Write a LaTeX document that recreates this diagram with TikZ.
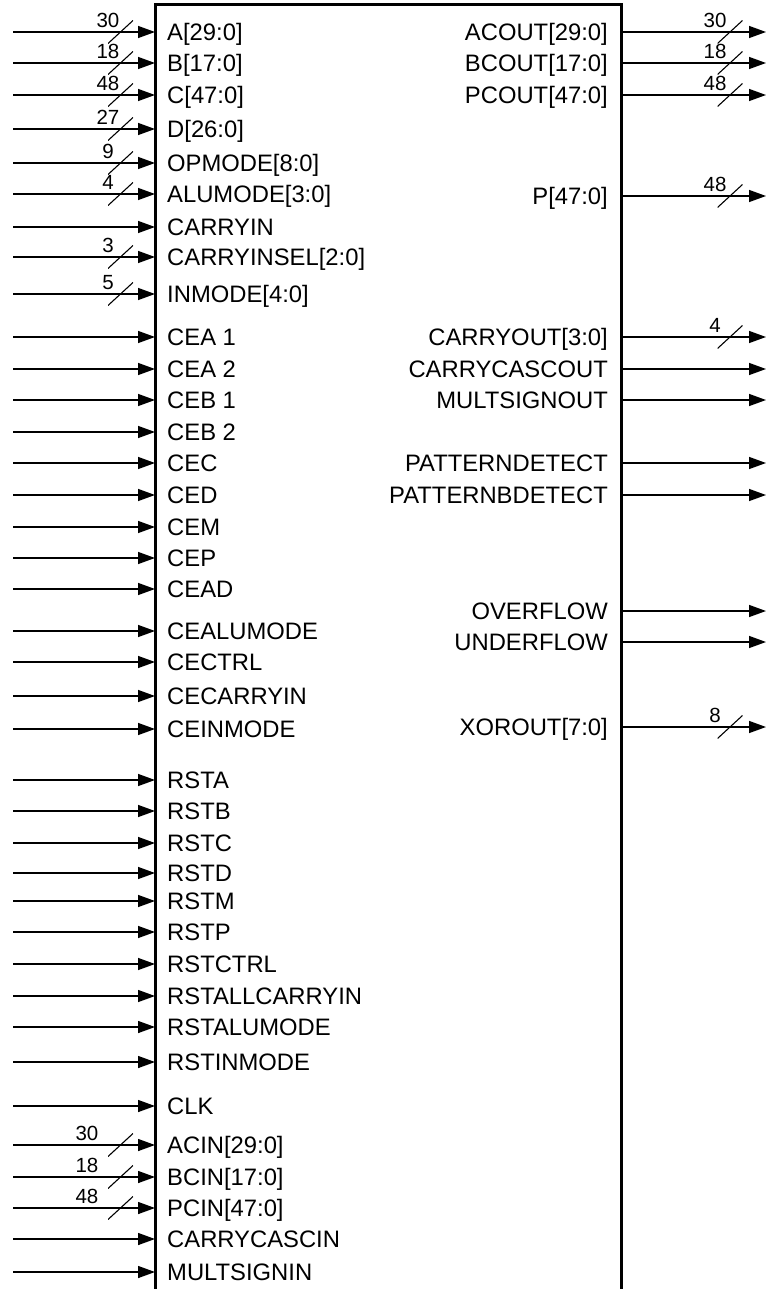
\documentclass[tikz,border=0pt]{standalone}
\usepackage{fontspec}
\setmainfont{Liberation Sans}
\usetikzlibrary{arrows.meta}
\def \xl{13}
\def \xr{766}

\tikzset{
  port/.style={inner ysep=0pt, text height=17pt, text depth=0pt, font=\fontsize{23.8}{28}\selectfont},
  lin/.style={port, anchor=west, inner xsep=12pt},
  rout/.style={port, anchor=east, inner xsep=13pt},
  sig/.style={line width=1.4pt, -{Triangle[length=17pt,width=12pt]}},
  busmark/.style={minimum width=25pt, minimum height=23pt, inner sep=0pt,
    path picture={\draw[line width=1.1pt] (path picture bounding box.south west) -- (path picture bounding box.north east);}},
  buswd/.style={anchor=south, inner sep=0pt, text height=14.5pt, text depth=0pt, font=\fontsize{20.5}{24}\selectfont}
}

\begin{document}
\begin{tikzpicture}[x=1pt, y=-1pt]
    \useasboundingbox (0,0) rectangle (767,1289);
    \draw[line width=3pt] (155,1295) |- (621,5) -- (621,1295);

    % data inputs
    \node[lin] (A) at (155,32) {A[29:0]};
    \node[lin] (B) at (155,63) {B[17:0]};
    \node[lin] (C) at (155,95) {C[47:0]};
    \node[lin] (D) at (155,129) {D[26:0]};
    \node[lin] (OPMODE) at (155,163) {OPMODE[8:0]};
    \node[lin] (ALUMODE) at (155,194) {ALUMODE[3:0]};
    \node[lin] (CARRYIN) at (155,227) {CARRYIN};
    \node[lin] (CARRYINSEL) at (155,257) {CARRYINSEL[2:0]};
    \node[lin] (INMODE) at (155,294) {INMODE[4:0]};
    \coordinate (A-in) at (\xl,32);
    \coordinate (B-in) at (\xl,63);
    \coordinate (C-in) at (\xl,95);
    \coordinate (D-in) at (\xl,129);
    \coordinate (OPMODE-in) at (\xl,163);
    \coordinate (ALUMODE-in) at (\xl,194);
    \coordinate (CARRYIN-in) at (\xl,227);
    \coordinate (CARRYINSEL-in) at (\xl,257);
    \coordinate (INMODE-in) at (\xl,294);
    \path[sig] (A-in) edge (A);
    \path[sig] (B-in) edge (B);
    \path[sig] (C-in) edge (C);
    \path[sig] (D-in) edge (D);
    \path[sig] (OPMODE-in) edge (OPMODE);
    \path[sig] (ALUMODE-in) edge (ALUMODE);
    \path[sig] (CARRYIN-in) edge (CARRYIN);
    \path[sig] (CARRYINSEL-in) edge (CARRYINSEL);
    \path[sig] (INMODE-in) edge (INMODE);
    \node[busmark] (A-s) at (120.5,32) {};
    \node[busmark] (B-s) at (120.5,63) {};
    \node[busmark] (C-s) at (120.5,95) {};
    \node[busmark] (D-s) at (120.5,129) {};
    \node[busmark] (OPMODE-s) at (120.5,163) {};
    \node[busmark] (ALUMODE-s) at (120.5,194) {};
    \node[busmark] (CARRYINSEL-s) at (120.5,257) {};
    \node[busmark] (INMODE-s) at (120.5,294) {};
    \node[buswd] (A-w) at (108,28) {30};
    \node[buswd] (B-w) at (108,59) {18};
    \node[buswd] (C-w) at (108,91) {48};
    \node[buswd] (D-w) at (108,125) {27};
    \node[buswd] (OPMODE-w) at (108,159) {9};
    \node[buswd] (ALUMODE-w) at (108,190) {4};
    \node[buswd] (CARRYINSEL-w) at (108,253) {3};
    \node[buswd] (INMODE-w) at (108,290) {5};

    % clock enables
    \node[lin] (CEA1) at (155,337) {CEA 1};
    \node[lin] (CEA2) at (155,369) {CEA 2};
    \node[lin] (CEB1) at (155,400) {CEB 1};
    \node[lin] (CEB2) at (155,432) {CEB 2};
    \node[lin] (CEC) at (155,463) {CEC};
    \node[lin] (CED) at (155,495) {CED};
    \node[lin] (CEM) at (155,527) {CEM};
    \node[lin] (CEP) at (155,558) {CEP};
    \node[lin] (CEAD) at (155,589) {CEAD};
    \node[lin] (CEALUMODE) at (155,631) {CEALUMODE};
    \node[lin] (CECTRL) at (155,662) {CECTRL};
    \node[lin] (CECARRYIN) at (155,696) {CECARRYIN};
    \node[lin] (CEINMODE) at (155,729) {CEINMODE};
    \coordinate (CEA1-in) at (\xl,337);
    \coordinate (CEA2-in) at (\xl,369);
    \coordinate (CEB1-in) at (\xl,400);
    \coordinate (CEB2-in) at (\xl,432);
    \coordinate (CEC-in) at (\xl,463);
    \coordinate (CED-in) at (\xl,495);
    \coordinate (CEM-in) at (\xl,527);
    \coordinate (CEP-in) at (\xl,558);
    \coordinate (CEAD-in) at (\xl,589);
    \coordinate (CEALUMODE-in) at (\xl,631);
    \coordinate (CECTRL-in) at (\xl,662);
    \coordinate (CECARRYIN-in) at (\xl,696);
    \coordinate (CEINMODE-in) at (\xl,729);
    \path[sig] (CEA1-in) edge (CEA1);
    \path[sig] (CEA2-in) edge (CEA2);
    \path[sig] (CEB1-in) edge (CEB1);
    \path[sig] (CEB2-in) edge (CEB2);
    \path[sig] (CEC-in) edge (CEC);
    \path[sig] (CED-in) edge (CED);
    \path[sig] (CEM-in) edge (CEM);
    \path[sig] (CEP-in) edge (CEP);
    \path[sig] (CEAD-in) edge (CEAD);
    \path[sig] (CEALUMODE-in) edge (CEALUMODE);
    \path[sig] (CECTRL-in) edge (CECTRL);
    \path[sig] (CECARRYIN-in) edge (CECARRYIN);
    \path[sig] (CEINMODE-in) edge (CEINMODE);

    % resets
    \node[lin] (RSTA) at (155,780) {RSTA};
    \node[lin] (RSTB) at (155,811) {RSTB};
    \node[lin] (RSTC) at (155,843) {RSTC};
    \node[lin] (RSTD) at (155,873) {RSTD};
    \node[lin] (RSTM) at (155,901) {RSTM};
    \node[lin] (RSTP) at (155,932) {RSTP};
    \node[lin] (RSTCTRL) at (155,964) {RSTCTRL};
    \node[lin] (RSTALLCARRYIN) at (155,996) {RSTALLCARRYIN};
    \node[lin] (RSTALUMODE) at (155,1027) {RSTALUMODE};
    \node[lin] (RSTINMODE) at (155,1062) {RSTINMODE};
    \coordinate (RSTA-in) at (\xl,780);
    \coordinate (RSTB-in) at (\xl,811);
    \coordinate (RSTC-in) at (\xl,843);
    \coordinate (RSTD-in) at (\xl,873);
    \coordinate (RSTM-in) at (\xl,901);
    \coordinate (RSTP-in) at (\xl,932);
    \coordinate (RSTCTRL-in) at (\xl,964);
    \coordinate (RSTALLCARRYIN-in) at (\xl,996);
    \coordinate (RSTALUMODE-in) at (\xl,1027);
    \coordinate (RSTINMODE-in) at (\xl,1062);
    \path[sig] (RSTA-in) edge (RSTA);
    \path[sig] (RSTB-in) edge (RSTB);
    \path[sig] (RSTC-in) edge (RSTC);
    \path[sig] (RSTD-in) edge (RSTD);
    \path[sig] (RSTM-in) edge (RSTM);
    \path[sig] (RSTP-in) edge (RSTP);
    \path[sig] (RSTCTRL-in) edge (RSTCTRL);
    \path[sig] (RSTALLCARRYIN-in) edge (RSTALLCARRYIN);
    \path[sig] (RSTALUMODE-in) edge (RSTALUMODE);
    \path[sig] (RSTINMODE-in) edge (RSTINMODE);

    % clock and cascade inputs
    \node[lin] (CLK) at (155,1106) {CLK};
    \node[lin] (ACIN) at (155,1145) {ACIN[29:0]};
    \node[lin] (BCIN) at (155,1177) {BCIN[17:0]};
    \node[lin] (PCIN) at (155,1208) {PCIN[47:0]};
    \node[lin] (CARRYCASCIN) at (155,1239) {CARRYCASCIN};
    \node[lin] (MULTSIGNIN) at (155,1272) {MULTSIGNIN};
    \coordinate (CLK-in) at (\xl,1106);
    \coordinate (ACIN-in) at (\xl,1145);
    \coordinate (BCIN-in) at (\xl,1177);
    \coordinate (PCIN-in) at (\xl,1208);
    \coordinate (CARRYCASCIN-in) at (\xl,1239);
    \coordinate (MULTSIGNIN-in) at (\xl,1272);
    \path[sig] (CLK-in) edge (CLK);
    \path[sig] (ACIN-in) edge (ACIN);
    \path[sig] (BCIN-in) edge (BCIN);
    \path[sig] (PCIN-in) edge (PCIN);
    \path[sig] (CARRYCASCIN-in) edge (CARRYCASCIN);
    \path[sig] (MULTSIGNIN-in) edge (MULTSIGNIN);
    \node[busmark] (ACIN-s) at (120.5,1145) {};
    \node[busmark] (BCIN-s) at (120.5,1177) {};
    \node[busmark] (PCIN-s) at (120.5,1208) {};
    \node[buswd] (ACIN-w) at (87,1141) {30};
    \node[buswd] (BCIN-w) at (87,1173) {18};
    \node[buswd] (PCIN-w) at (87,1204) {48};

    % outputs
    \node[rout] (ACOUT) at (621,32) {ACOUT[29:0]};
    \node[rout] (BCOUT) at (621,63) {BCOUT[17:0]};
    \node[rout] (PCOUT) at (621,95) {PCOUT[47:0]};
    \node[rout] (P) at (621,196) {P[47:0]};
    \node[rout] (CARRYOUT) at (621,337) {CARRYOUT[3:0]};
    \node[rout] (CARRYCASCOUT) at (621,369) {CARRYCASCOUT};
    \node[rout] (MULTSIGNOUT) at (621,400) {MULTSIGNOUT};
    \node[rout] (PATTERNDETECT) at (621,463) {PATTERNDETECT};
    \node[rout] (PATTERNBDETECT) at (621,495) {PATTERNBDETECT};
    \node[rout] (OVERFLOW) at (621,611) {OVERFLOW};
    \node[rout] (UNDERFLOW) at (621,642) {UNDERFLOW};
    \node[rout] (XOROUT) at (621,727) {XOROUT[7:0]};
    \coordinate (ACOUT-out) at (\xr,32);
    \coordinate (BCOUT-out) at (\xr,63);
    \coordinate (PCOUT-out) at (\xr,95);
    \coordinate (P-out) at (\xr,196);
    \coordinate (CARRYOUT-out) at (\xr,337);
    \coordinate (CARRYCASCOUT-out) at (\xr,369);
    \coordinate (MULTSIGNOUT-out) at (\xr,400);
    \coordinate (PATTERNDETECT-out) at (\xr,463);
    \coordinate (PATTERNBDETECT-out) at (\xr,495);
    \coordinate (OVERFLOW-out) at (\xr,611);
    \coordinate (UNDERFLOW-out) at (\xr,642);
    \coordinate (XOROUT-out) at (\xr,727);
    \path[sig] (ACOUT) edge (ACOUT-out);
    \path[sig] (BCOUT) edge (BCOUT-out);
    \path[sig] (PCOUT) edge (PCOUT-out);
    \path[sig] (P) edge (P-out);
    \path[sig] (CARRYOUT) edge (CARRYOUT-out);
    \path[sig] (CARRYCASCOUT) edge (CARRYCASCOUT-out);
    \path[sig] (MULTSIGNOUT) edge (MULTSIGNOUT-out);
    \path[sig] (PATTERNDETECT) edge (PATTERNDETECT-out);
    \path[sig] (PATTERNBDETECT) edge (PATTERNBDETECT-out);
    \path[sig] (OVERFLOW) edge (OVERFLOW-out);
    \path[sig] (UNDERFLOW) edge (UNDERFLOW-out);
    \path[sig] (XOROUT) edge (XOROUT-out);
    \node[busmark] (ACOUT-s) at (730,32) {};
    \node[busmark] (BCOUT-s) at (730,63) {};
    \node[busmark] (PCOUT-s) at (730,95) {};
    \node[busmark] (P-s) at (730,196) {};
    \node[busmark] (CARRYOUT-s) at (730,337) {};
    \node[busmark] (XOROUT-s) at (730,727) {};
    \node[buswd] (ACOUT-w) at (715,28) {30};
    \node[buswd] (BCOUT-w) at (715,59) {18};
    \node[buswd] (PCOUT-w) at (715,91) {48};
    \node[buswd] (P-w) at (715,192) {48};
    \node[buswd] (CARRYOUT-w) at (715,333) {4};
    \node[buswd] (XOROUT-w) at (715,723) {8};
\end{tikzpicture}
\end{document}
